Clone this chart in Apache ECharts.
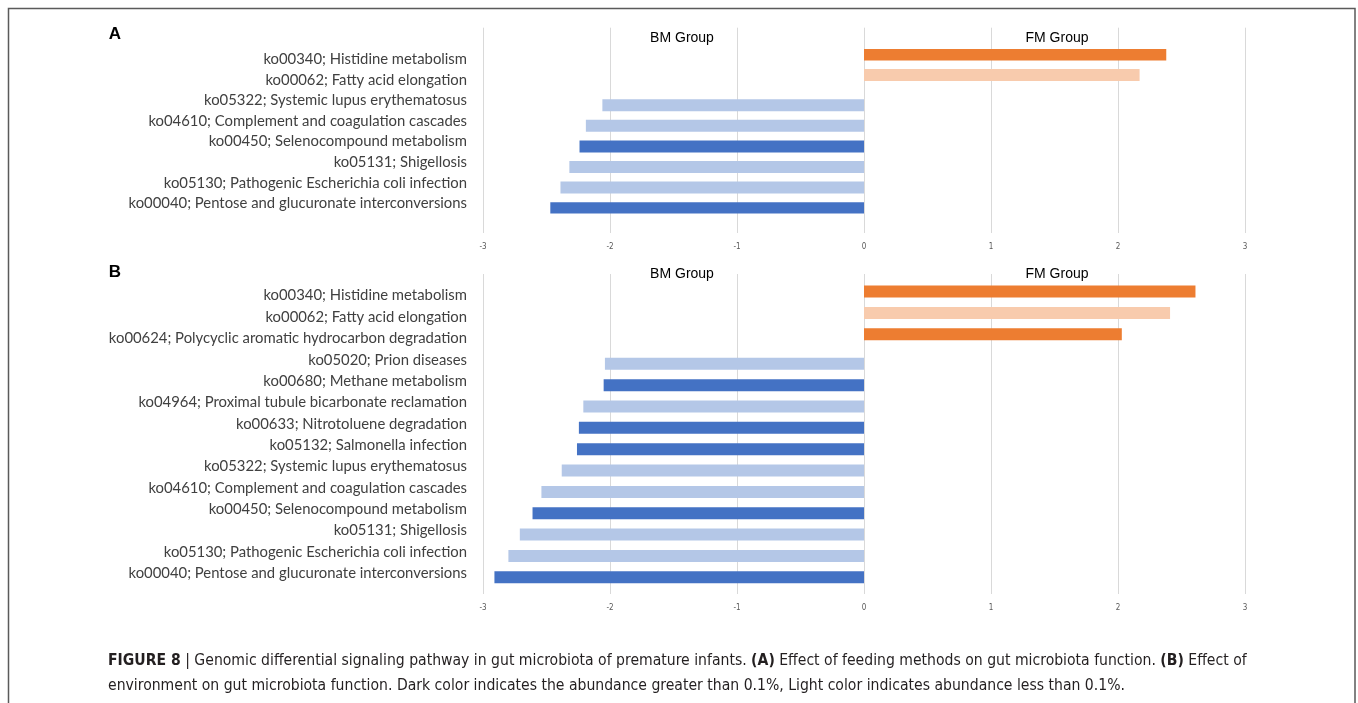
<!DOCTYPE html>
<html>
<head>
<meta charset="utf-8">
<script src="https://cdn.jsdelivr.net/npm/echarts@6/dist/echarts.min.js"></script>
<style>
html,body{margin:0;padding:0;background:#fff;}
#c{width:1358px;height:703px;}
</style>
</head>
<body>
<div id="c"></div>
<script>
// ---- Data ----
var catsA = [
  'ko00340; Histidine metabolism',
  'ko00062; Fatty acid elongation',
  'ko05322; Systemic lupus erythematosus',
  'ko04610; Complement and coagulation cascades',
  'ko00450; Selenocompound metabolism',
  'ko05131; Shigellosis',
  'ko05130; Pathogenic Escherichia coli infection',
  'ko00040; Pentose and glucuronate interconversions'
];
var valuesA = [2.38, 2.17, -2.06, -2.19, -2.24, -2.32, -2.39, -2.47];
var darkA = [1, 0, 0, 0, 1, 0, 0, 1];

var catsB = [
  'ko00340; Histidine metabolism',
  'ko00062; Fatty acid elongation',
  'ko00624; Polycyclic aromatic hydrocarbon degradation',
  'ko05020; Prion diseases',
  'ko00680; Methane metabolism',
  'ko04964; Proximal tubule bicarbonate reclamation',
  'ko00633; Nitrotoluene degradation',
  'ko05132; Salmonella infection',
  'ko05322; Systemic lupus erythematosus',
  'ko04610; Complement and coagulation cascades',
  'ko00450; Selenocompound metabolism',
  'ko05131; Shigellosis',
  'ko05130; Pathogenic Escherichia coli infection',
  'ko00040; Pentose and glucuronate interconversions'
];
var valuesB = [2.61, 2.41, 2.03, -2.04, -2.05, -2.21, -2.245, -2.26, -2.38, -2.54, -2.61, -2.71, -2.80, -2.91];
var darkB = [1, 0, 1, 0, 1, 0, 1, 1, 0, 0, 1, 0, 0, 1];

var xTicks = [-3, -2, -1, 0, 1, 2, 3];
var groupLabels = ['BM Group', 'FM Group'];

// ---- Styles ----
var C = {
  orangeDark: '#ED7D31', orangeLight: '#F8CBAD',
  blueDark: '#4472C4', blueLight: '#B4C7E7',
  grid: '#D9D9D9', label: '#404040', tick: '#595959'
};
var NARROW = '"DejaVu Sans Condensed", "Liberation Sans Narrow", "Liberation Sans", sans-serif';
var L = 483, R = 1358 - 1245;

function fmData(vals, dark) {
  return vals.map(function (v, i) {
    return v > 0 ? { value: v, itemStyle: { color: dark[i] ? C.orangeDark : C.orangeLight } } : '-';
  });
}
function bmData(vals, dark) {
  return vals.map(function (v, i) {
    return v < 0 ? { value: v, itemStyle: { color: dark[i] ? C.blueDark : C.blueLight } } : '-';
  });
}

var frameX = function (gi) {
  return {
    type: 'value', gridIndex: gi, min: -3, max: 3, interval: 1,
    axisLine: { show: false }, axisTick: { show: false },
    splitLine: { show: true, lineStyle: { color: C.grid, width: 1 } },
    axisLabel: {
      show: true, color: C.tick, fontSize: 8, margin: 10,
      fontFamily: NARROW,
      formatter: function (v) { return xTicks.indexOf(v) >= 0 ? String(v) : ''; }
    }
  };
};
var dataX = function (gi) {
  return {
    type: 'value', gridIndex: gi, min: -3, max: 3, interval: 1,
    axisLine: { show: false }, axisTick: { show: false },
    splitLine: { show: false }, axisLabel: { show: false }
  };
};
var frameY = function (gi) {
  return { type: 'value', gridIndex: gi, show: false, min: 0, max: 1 };
};
var dataY = function (gi, cats) {
  return {
    type: 'category', gridIndex: gi, data: cats, inverse: true,
    axisLine: { show: false }, axisTick: { show: false },
    splitLine: { show: false },
    axisLabel: { color: C.label, fontSize: 14.85, margin: 16, fontFamily: 'Lato' }
  };
};

var option = {
  animation: false,
  backgroundColor: '#fff',
  grid: [
    { left: L, right: R, top: 27.7, height: 205.3 },
    { left: L, right: R, top: 49, height: 164.6 },
    { left: L, right: R, top: 274, height: 320 },
    { left: L, right: R, top: 285, height: 298.9 }
  ],
  xAxis: [frameX(0), dataX(1), frameX(2), dataX(3)],
  yAxis: [frameY(0), dataY(1, catsA), frameY(2), dataY(3, catsB)],
  series: [
    { type: 'bar', xAxisIndex: 0, yAxisIndex: 0, data: [] },
    { type: 'bar', xAxisIndex: 2, yAxisIndex: 2, data: [] },
    { name: 'FM A', type: 'bar', xAxisIndex: 1, yAxisIndex: 1, barWidth: 12, barGap: '-19%', data: fmData(valuesA, darkA) },
    { name: 'BM A', type: 'bar', xAxisIndex: 1, yAxisIndex: 1, barWidth: 12, barGap: '-19%', data: bmData(valuesA, darkA) },
    { name: 'FM B', type: 'bar', xAxisIndex: 3, yAxisIndex: 3, barWidth: 12, barGap: '-32%', data: fmData(valuesB, darkB) },
    { name: 'BM B', type: 'bar', xAxisIndex: 3, yAxisIndex: 3, barWidth: 12, barGap: '-32%', data: bmData(valuesB, darkB) }
  ],
  graphic: [
    { type: 'rect', shape: { x: 8.5, y: 8.5, width: 1346.5, height: 720 }, style: { fill: 'none', stroke: '#5a5a5a', lineWidth: 1.5 }, silent: true },
    { type: 'text', x: 115, y: 34, style: { text: 'A', font: 'bold 17px "Liberation Sans"', fill: '#000', align: 'center', verticalAlign: 'middle' } },
    { type: 'text', x: 115, y: 272, style: { text: 'B', font: 'bold 17px "Liberation Sans"', fill: '#000', align: 'center', verticalAlign: 'middle' } },
    { type: 'text', x: 682, y: 38, style: { text: groupLabels[0], font: '14px "Liberation Sans"', fill: '#000', align: 'center', verticalAlign: 'middle' } },
    { type: 'text', x: 1057, y: 38, style: { text: groupLabels[1], font: '14px "Liberation Sans"', fill: '#000', align: 'center', verticalAlign: 'middle' } },
    { type: 'text', x: 682, y: 274, style: { text: groupLabels[0], font: '14px "Liberation Sans"', fill: '#000', align: 'center', verticalAlign: 'middle' } },
    { type: 'text', x: 1057, y: 274, style: { text: groupLabels[1], font: '14px "Liberation Sans"', fill: '#000', align: 'center', verticalAlign: 'middle' } },
    {
      type: 'text', x: 108, y: 648,
      style: {
        text: '{b|FIGURE 8} {n||} {n|Genomic differential signaling pathway in gut microbiota of premature infants.} {b|(A)} {n|Effect of feeding methods on gut microbiota function.} {b|(B)} {n|Effect of}\n{n|environment on gut microbiota function. Dark color indicates the abundance greater than 0.1%, Light color indicates abundance less than 0.1%.}',
        fill: '#231F20',
        font: '15.6px ' + NARROW,
        lineHeight: 25,
        rich: {
          b: { fontWeight: 'bold', fontSize: 15.6, fontFamily: NARROW, fill: '#231F20', lineHeight: 25 },
          n: { fontSize: 15.6, fontFamily: NARROW, fill: '#231F20', lineHeight: 25 }
        }
      }
    }
  ]
};

var chart = echarts.init(document.getElementById('c'), null, { renderer: 'canvas' });
chart.setOption(option);
</script>
</body>
</html>
